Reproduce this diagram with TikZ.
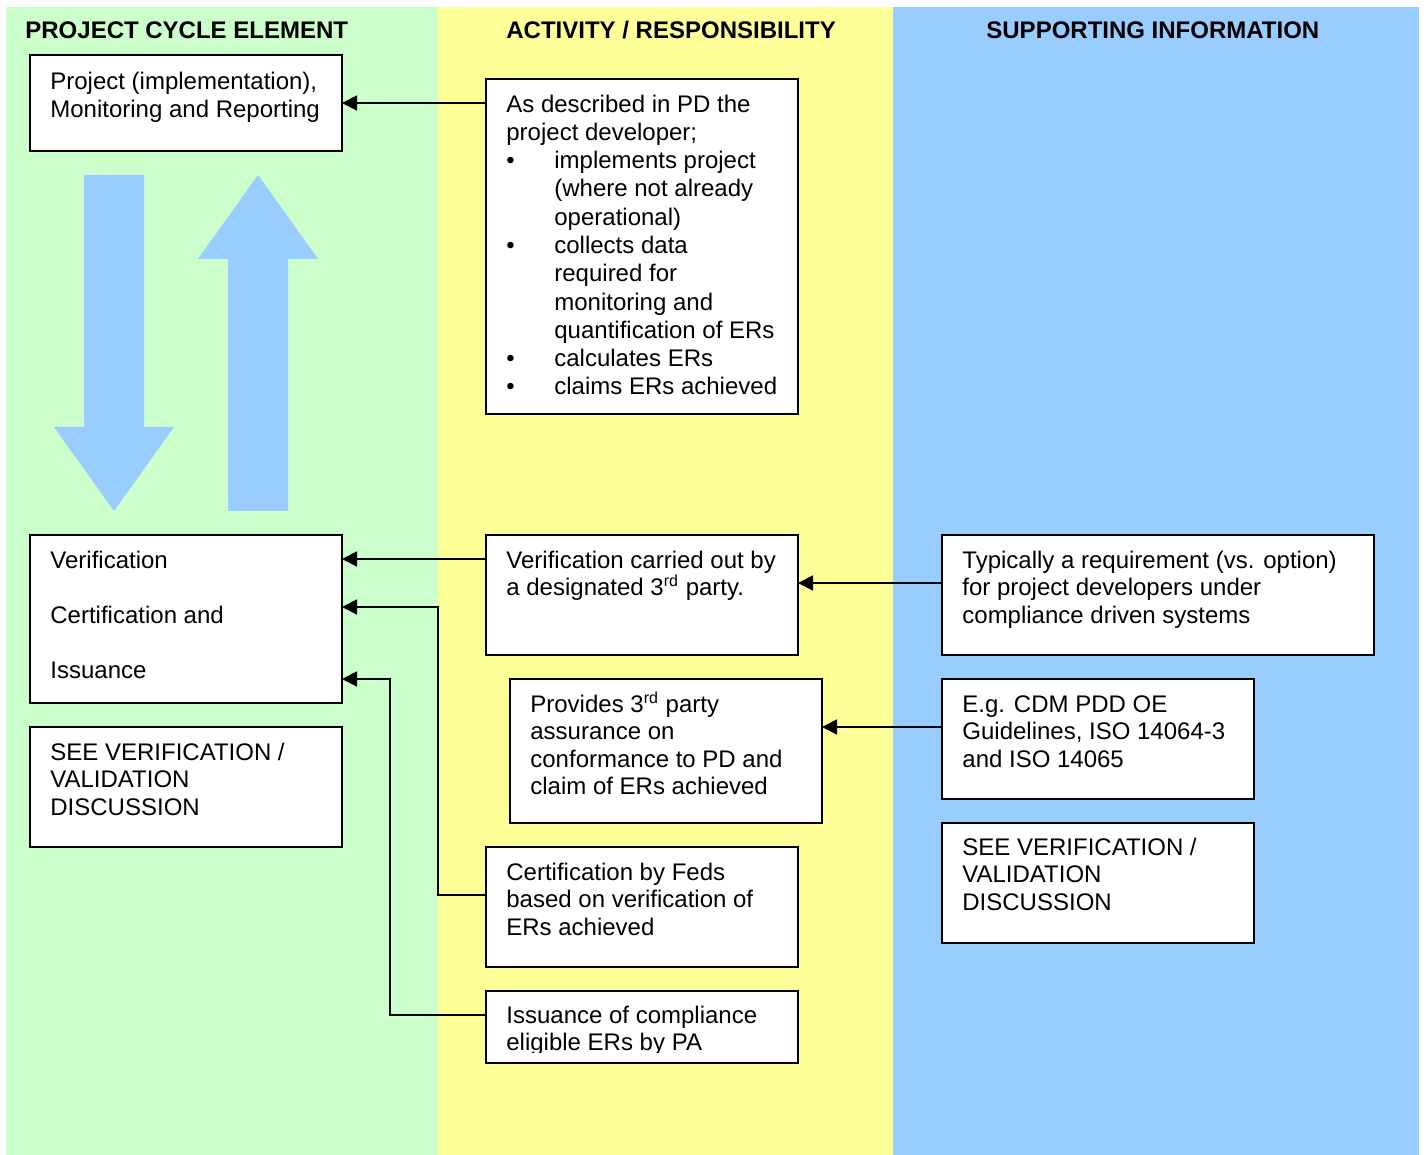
\documentclass[tikz,border=0pt]{standalone}
\usepackage{fontspec}
\setmainfont{Liberation Sans}
\usetikzlibrary{arrows.meta}
\definecolor{cgreen}{HTML}{CCFFCC}
\definecolor{cyellow}{HTML}{FFFF99}
\definecolor{cblue}{HTML}{99CCFF}
\begin{document}
\begin{tikzpicture}[x=0.5pt,y=-0.5pt,
  box/.style={draw=black, line width=1.1pt, fill=white, anchor=north west, inner sep=0pt, outer sep=0pt},
  txt/.style={anchor=base west, inner sep=0pt, align=left, font=\fontsize{12}{13.8}\selectfont},
  hdr/.style={anchor=base west, inner sep=0pt, font=\fontsize{12}{13.8}\selectfont\bfseries},
  conn/.style={line width=0.9pt, -{Triangle[length=7.5pt,width=7.5pt]}},
  bigarrow/.style={fill=cblue, draw=none}]
\useasboundingbox (0,0) rectangle (1426,1155);
% columns
\fill[cgreen] (6,7) rectangle (438,1155);
\fill[cyellow] (438,7) rectangle (893,1155);
\fill[cblue] (893,7) rectangle (1419,1155);
% headers
\node[hdr] (h1) at (25,39) {PROJECT CYCLE ELEMENT};
\node[hdr] (h2) at (506,39) {ACTIVITY / RESPONSIBILITY};
\node[hdr] (h3) at (986,39) {SUPPORTING INFORMATION};
% big arrows
\fill[bigarrow] (84,175) -- (144,175) -- (144,427) -- (174,427) -- (114,511) -- (54,427) -- (84,427) -- cycle;
\fill[bigarrow] (258,175) -- (318,259) -- (288,259) -- (288,511) -- (228,511) -- (228,259) -- (198,259) -- cycle;
% boxes (text nodes are anchored at the baseline of their last line)
\node[box, minimum width=156pt, minimum height=48pt] (A) at (30,55) {};
\node[txt] (tA) at (50,117.6) {Project (implementation),\\Monitoring and Reporting};
\node[box, minimum width=156pt, minimum height=167.5pt] (B) at (486,79) {};
\node[txt, font=\fontsize{12}{14.15}\selectfont] (tB) at (506,395) {As described in PD the\\project developer;\\
\makebox[24pt][l]{•}implements project\\
\hspace*{24pt}(where not already\\
\hspace*{24pt}operational)\\
\makebox[24pt][l]{•}collects data\\
\hspace*{24pt}required for\\
\hspace*{24pt}monitoring and\\
\hspace*{24pt}quantification of ERs\\
\makebox[24pt][l]{•}calculates ERs\\
\makebox[24pt][l]{•}claims ERs achieved};
\node[box, minimum width=156pt, minimum height=84pt] (C) at (30,535) {};
\node[txt] (tC) at (50,678.4) {Verification\\ \\Certification and\\ \\Issuance};
\node[box, minimum width=156pt, minimum height=60pt] (D) at (30,727) {};
\node[txt] (tD) at (50,815.2) {SEE VERIFICATION /\\VALIDATION\\DISCUSSION};
\node[box, minimum width=156pt, minimum height=60pt] (E) at (486,535) {};
\node[txt] (tE) at (506,595.6) {Verification carried out by\\a designated 3\textsuperscript{rd} party.};
\node[box, minimum width=156pt, minimum height=72pt] (F) at (510,679) {};
\node[txt] (tF) at (530,794.8) {Provides 3\textsuperscript{rd} party\\assurance on\\conformance to PD and\\claim of ERs achieved};
\node[box, minimum width=156pt, minimum height=60pt] (G) at (486,847) {};
\node[txt] (tG) at (506,935.2) {Certification by Feds\\based on verification of\\ERs achieved};
\node[box, minimum width=156pt, minimum height=36pt] (H) at (486,991) {};
\begin{scope}
\clip (487,992) rectangle (797,1052);
\node[txt] (tH) at (506,1050.6) {Issuance of compliance\\eligible ERs by PA};
\end{scope}
\node[box, minimum width=216pt, minimum height=60pt] (I) at (942,535) {};
\node[txt] (tI) at (962,623.2) {Typically a requirement (vs. option)\\for project developers under\\compliance driven systems};
\node[box, minimum width=156pt, minimum height=60pt] (J) at (942,679) {};
\node[txt] (tJ) at (962,767.2) {E.g. CDM PDD OE\\Guidelines, ISO 14064-3\\and ISO 14065};
\node[box, minimum width=156pt, minimum height=60pt] (K) at (942,823) {};
\node[txt] (tK) at (962,910.2) {SEE VERIFICATION /\\VALIDATION\\DISCUSSION};
% connectors
\draw[conn] (A.east -| B.west) -- (A.east);
\coordinate (eC) at ([yshift=-12pt]E.north west);
\draw[conn] (eC) -- (eC -| C.east);
\coordinate (gJ) at (438,607);
\draw[conn] ([yshift=-24pt]G.north west) -| (gJ) -- (gJ -| C.east);
\coordinate (hJ) at (390,679);
\draw[conn] ([yshift=-12pt]H.north west) -| (hJ) -- (hJ -| C.east);
\coordinate (iE) at ([yshift=-24pt]I.north west);
\draw[conn] (iE) -- (iE -| E.east);
\coordinate (jF) at ([yshift=-24pt]J.north west);
\draw[conn] (jF) -- (jF -| F.east);
\end{tikzpicture}
\end{document}
